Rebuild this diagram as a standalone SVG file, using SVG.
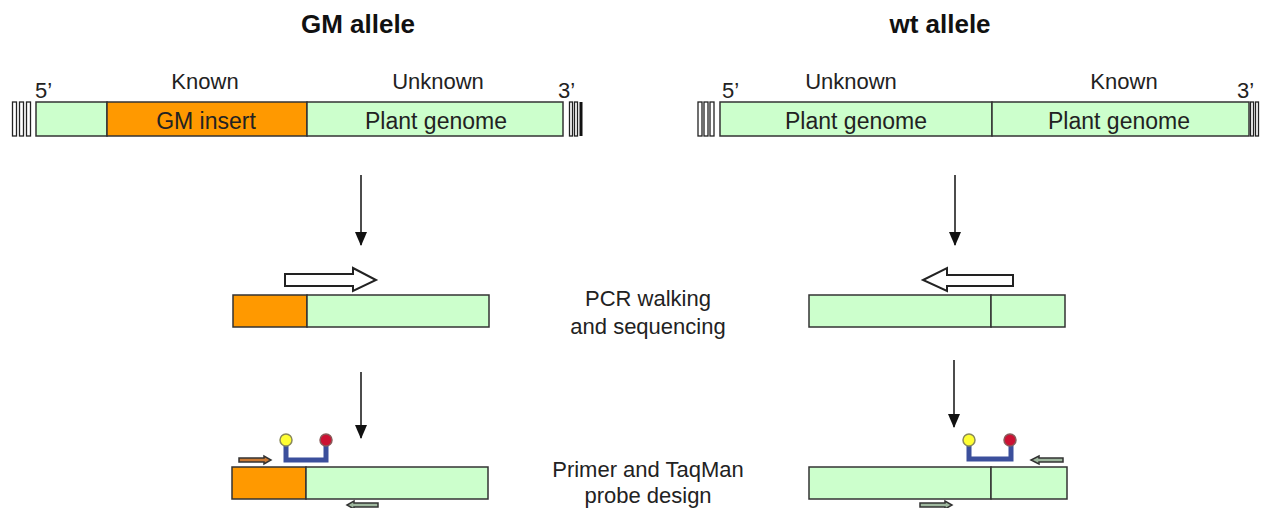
<svg xmlns="http://www.w3.org/2000/svg" width="1262" height="508" viewBox="0 0 1262 508">
<defs>
<style>
.t{font-family:"Liberation Sans",Arial,sans-serif;fill:#222;}
.title{font-size:26px;font-weight:bold;fill:#111;}
.lbl{font-size:22px;}
.in{font-size:23px;}
.mid{font-size:22px;}
.g{fill:#ccffcc;stroke:#333;stroke-width:1.5;}
.o{fill:#ff9900;stroke:#333;stroke-width:1.5;}
.h{fill:#fff;stroke:#222;stroke-width:1.3;}
.conn{stroke:#111;stroke-width:1.5;fill:none;}
.blk{fill:#fff;stroke:#222;stroke-width:2;stroke-linejoin:miter;}
.probe{fill:none;stroke:#3b4f9c;stroke-width:5;stroke-linejoin:miter;}
.pf{fill:#cc7a33;stroke:#333;stroke-width:1.5;}
.pr{fill:#9fb89f;stroke:#333;stroke-width:1.5;}
</style>
<marker id="ah" markerWidth="14" markerHeight="12" refX="13" refY="6" orient="auto" markerUnits="userSpaceOnUse" viewBox="0 0 14 12">
<path d="M0,0 L14,6 L0,12 Z" fill="#111"/>
</marker>
</defs>
<rect width="1262" height="508" fill="#fff"/>

<text class="t title" x="358" y="33" text-anchor="middle">GM allele</text>
<text class="t title" x="940" y="33" text-anchor="middle">wt allele</text>

<g id="gm-top">
<rect class="h" x="12.5" y="102" width="4" height="34"/>
<rect class="h" x="19.5" y="102" width="4" height="34"/>
<rect class="h" x="26.5" y="102" width="4" height="34"/>
<rect class="g" x="36" y="102" width="71" height="34"/>
<rect class="o" x="107" y="102" width="200" height="34"/>
<rect class="g" x="307" y="102" width="256" height="34"/>
<rect class="h" x="569.5" y="102" width="3" height="34"/>
<rect class="h" x="574.5" y="102" width="3" height="34"/>
<rect x="579.5" y="102" width="3" height="34" fill="#111"/>
<text class="t lbl" x="35" y="98">5’</text>
<text class="t lbl" x="205" y="89" text-anchor="middle">Known</text>
<text class="t lbl" x="438" y="89" text-anchor="middle">Unknown</text>
<text class="t lbl" x="558" y="98">3’</text>
<text class="t in" x="206" y="129" text-anchor="middle">GM insert</text>
<text class="t in" x="436" y="129" text-anchor="middle">Plant genome</text>
</g>

<g id="wt-top">
<rect class="h" x="698" y="102" width="4" height="34"/>
<rect class="h" x="704" y="102" width="4" height="34"/>
<rect class="h" x="710" y="102" width="4" height="34"/>
<rect class="g" x="720" y="102" width="272" height="34"/>
<rect class="g" x="992" y="102" width="257" height="34"/>
<rect class="h" x="1250.5" y="102" width="3" height="34"/>
<rect class="h" x="1255.5" y="102" width="3" height="34"/>
<text class="t lbl" x="722" y="98">5’</text>
<text class="t lbl" x="851" y="89" text-anchor="middle">Unknown</text>
<text class="t lbl" x="1124" y="89" text-anchor="middle">Known</text>
<text class="t lbl" x="1237" y="98">3’</text>
<text class="t in" x="856" y="129" text-anchor="middle">Plant genome</text>
<text class="t in" x="1119" y="129" text-anchor="middle">Plant genome</text>
</g>

<g id="connectors">
<line class="conn" x1="361" y1="175" x2="361" y2="245" marker-end="url(#ah)"/>
<line class="conn" x1="955" y1="175" x2="955" y2="245" marker-end="url(#ah)"/>
<line class="conn" x1="361" y1="372" x2="361" y2="438" marker-end="url(#ah)"/>
<line class="conn" x1="954" y1="360" x2="954" y2="427" marker-end="url(#ah)"/>
</g>

<g id="gm-mid">
<path class="blk" d="M285,274 L353,274 L353,268 L376,280 L353,291 L353,286 L285,286 Z"/>
<rect class="o" x="233" y="295" width="74" height="32"/>
<rect class="g" x="307" y="295" width="182" height="32"/>
</g>

<g id="wt-mid">
<path class="blk" d="M1013,275 L947,275 L947,268 L923,280 L947,291 L947,286 L1013,286 Z"/>
<rect class="g" x="809" y="295" width="182" height="32"/>
<rect class="g" x="991" y="295" width="74" height="32"/>
</g>

<g id="step-label-1">
<text class="t mid" x="648" y="306" text-anchor="middle">PCR walking</text>
<text class="t mid" x="648" y="334" text-anchor="middle">and sequencing</text>
</g>

<g id="gm-bottom">
<rect class="o" x="232" y="467" width="74" height="32"/>
<rect class="g" x="306" y="467" width="182" height="32"/>
<polyline class="probe" points="286,443 286,460 326,460 326,443"/>
<circle cx="286" cy="440" r="6" fill="#ffff33" stroke="#8a8a5a" stroke-width="1.5"/>
<circle cx="326" cy="440" r="6" fill="#cc1133" stroke="#8a5a5a" stroke-width="1.5"/>
<path class="pf" d="M239,458 L264,458 L264,456 L271,460 L264,464 L264,462 L239,462 Z"/>
<path class="pr" d="M378,503 L354,503 L354,501 L347,505 L354,509 L354,507 L378,507 Z"/>
</g>

<g id="wt-bottom">
<rect class="g" x="809" y="467" width="182" height="32"/>
<rect class="g" x="991" y="467" width="76" height="32"/>
<polyline class="probe" points="969,443 969,459 1011,459 1011,443"/>
<circle cx="969" cy="440" r="6" fill="#ffff33" stroke="#8a8a5a" stroke-width="1.5"/>
<circle cx="1010" cy="440" r="6" fill="#cc1133" stroke="#8a5a5a" stroke-width="1.5"/>
<path class="pr" d="M1063,458 L1039,458 L1039,456 L1031,460 L1039,464 L1039,462 L1063,462 Z"/>
<path class="pr" d="M920,503 L945,503 L945,501 L952,505 L945,509 L945,507 L920,507 Z"/>
</g>

<g id="step-label-2">
<text class="t mid" x="648" y="477" text-anchor="middle">Primer and TaqMan</text>
<text class="t mid" x="648" y="503" text-anchor="middle">probe design</text>
</g>
</svg>
